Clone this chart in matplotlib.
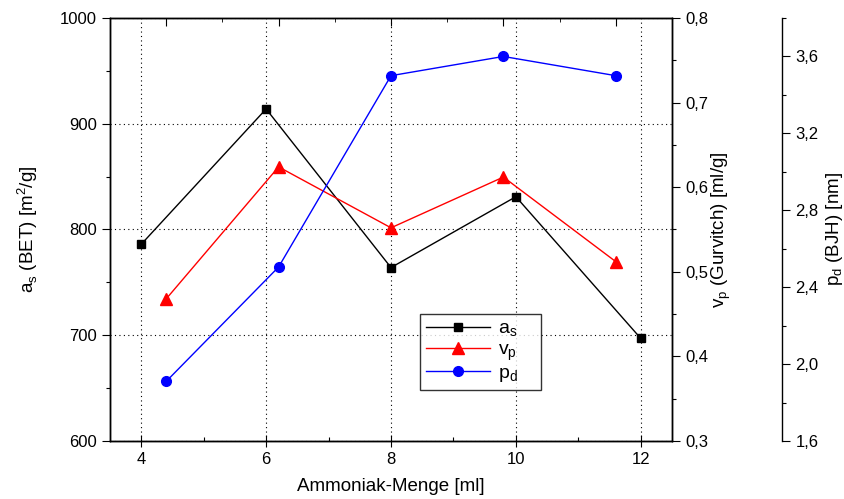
import matplotlib
matplotlib.use("Agg")
import matplotlib.pyplot as plt
from matplotlib.ticker import MultipleLocator, FuncFormatter

plt.rcParams['font.family'] = ['Liberation Sans', 'DejaVu Sans']
plt.rcParams['font.size'] = 12

# data
menge_as = [4, 6, 8, 10, 12]
a_s = [786, 914, 764, 831, 697]
menge_vp = [4.4, 6.2, 8.0, 9.8, 11.6]
v_p = [0.468, 0.624, 0.552, 0.612, 0.512]
menge_pd = [4.4, 6.2, 8.0, 9.8, 11.6]
p_d = [1.91, 2.505, 3.50, 3.60, 3.50]


def komma(v, pos):
    return f"{v:.1f}".replace(".", ",")


fig = plt.figure(figsize=(8.44, 4.99), dpi=100)
ax = fig.add_axes([110/844, 1 - 441/499, 562/844, 423/499])
ax2 = ax.twinx()
ax3 = ax.twinx()
ax3.spines['right'].set_position(('axes', 1.196))
for s in ('top', 'bottom', 'left'):
    ax3.spines[s].set_visible(False)

x0, x1 = 3.5, 12.5

# top axis: ticks of the second layer (4..12 mapped onto 4.4..11.6)
top = ax.twiny()
top.set_xlim(4 + (x0 - 4.4) / 0.9, 4 + (x1 - 4.4) / 0.9)
top.xaxis.set_major_locator(MultipleLocator(2))
top.xaxis.set_minor_locator(MultipleLocator(1))
top.tick_params(axis='x', which='both', direction='in', labeltop=False)
top.tick_params(which='major', length=6)
top.tick_params(which='minor', length=3)
top.set_yticks([])

l1, = ax.plot(menge_as, a_s, color='black', marker='s', markersize=6, lw=1,
              label=r'a$_\mathregular{s}$')
l2, = ax2.plot(menge_vp, v_p, color='red', marker='^', markersize=8, lw=1,
               label=r'v$_\mathregular{p}$')
l3, = ax3.plot(menge_pd, p_d, color='blue', marker='o', markersize=7, lw=1,
               label=r'p$_\mathregular{d}$')

ax.set_xlim(x0, x1)
ax.set_ylim(600, 1000)
ax2.set_ylim(0.3, 0.8)
ax3.set_ylim(1.6, 3.8)

ax.xaxis.set_major_locator(MultipleLocator(2))
ax.xaxis.set_minor_locator(MultipleLocator(1))
ax.yaxis.set_major_locator(MultipleLocator(100))
ax.yaxis.set_minor_locator(MultipleLocator(50))
ax2.yaxis.set_major_locator(MultipleLocator(0.1))
ax2.yaxis.set_minor_locator(MultipleLocator(0.05))
ax3.yaxis.set_major_locator(MultipleLocator(0.4))
ax3.yaxis.set_minor_locator(MultipleLocator(0.2))
ax2.yaxis.set_major_formatter(FuncFormatter(komma))
ax3.yaxis.set_major_formatter(FuncFormatter(komma))

ax.grid(True, which='major', color='black', linestyle=(0, (1, 3)), lw=0.8)

for a in (ax, ax2, ax3):
    a.tick_params(which='major', length=6, width=0.8, labelsize=12)
    a.tick_params(which='minor', length=3, width=0.8)
    for s in a.spines.values():
        s.set_linewidth(1)
ax.tick_params(axis='x', which='major', direction='inout', length=8, pad=4)
ax.tick_params(axis='x', which='minor', direction='in', length=3)

ax.set_xlabel('Ammoniak-Menge [ml]', fontsize=13.5, labelpad=8)
ax.set_ylabel(r'a$_\mathregular{s}$ (BET) [m$^\mathregular{2}$/g]', fontsize=13.5, labelpad=14)
ax2.set_ylabel(r'v$_\mathregular{p}$ (Gurvitch) [ml/g]', fontsize=13.5)
ax3.set_ylabel(r'p$_\mathregular{d}$ (BJH) [nm]', fontsize=13.5)
ax2.yaxis.set_label_coords((710 - 110) / 562, 0.5)
ax3.yaxis.set_label_coords((824 - 110) / 562, 0.5)

leg = ax3.legend(handles=[l1, l2, l3],
                 labels=[h.get_label() + '    ' for h in (l1, l2, l3)],
                 loc='lower left',
                 bbox_to_anchor=((420 - 110) / 562, (441 - 390) / 423),
                 fontsize=14, frameon=True, fancybox=False, edgecolor='black',
                 borderaxespad=0, handlelength=3.3, handletextpad=0.4,
                 labelspacing=0.1, borderpad=0.3)
leg.get_frame().set_linewidth(1)

fig.savefig('out.png', dpi=100)
